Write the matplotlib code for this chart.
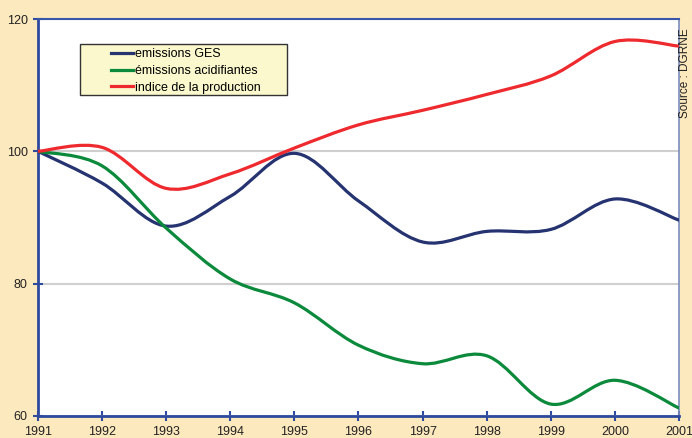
import numpy as np
import matplotlib
matplotlib.use("Agg")
import matplotlib.pyplot as plt
from matplotlib.path import Path
from matplotlib.patches import PathPatch, Rectangle
from matplotlib.lines import Line2D

plt.rcParams['font.family'] = ['Liberation Sans', 'DejaVu Sans']

years = [1991, 1992, 1993, 1994, 1995, 1996, 1997, 1998, 1999, 2000, 2001]
ges = [100, 95.2, 88.7, 93.2, 99.7, 92.5, 86.3, 87.9, 88.2, 92.8, 89.6]
acid = [100, 97.8, 88.4, 80.7, 77.1, 70.7, 67.9, 69.1, 61.8, 65.4, 61.2]
prod = [100, 100.6, 94.4, 96.6, 100.5, 104.0, 106.2, 108.6, 111.4, 116.6, 115.9]
labels = ["emissions GES", "émissions acidifiantes", "indice de la production"]
colors = ["#253370", "#0C8A3C", "#EE2A2E"]


def smooth_path(x, y):
    # Excel-like smoothed line: cubic Bezier segments, Catmull-Rom control points
    x = np.asarray(x, float)
    y = np.asarray(y, float)
    n = len(x)
    verts = [(x[0], y[0])]
    codes = [Path.MOVETO]
    for i in range(n - 1):
        p0 = i - 1 if i > 0 else i
        p3 = i + 2 if i + 2 < n else i + 1
        c1 = (x[i] + (x[i + 1] - x[p0]) / 6, y[i] + (y[i + 1] - y[p0]) / 6)
        c2 = (x[i + 1] - (x[p3] - x[i]) / 6, y[i + 1] - (y[p3] - y[i]) / 6)
        verts += [c1, c2, (x[i + 1], y[i + 1])]
        codes += [Path.CURVE4] * 3
    return Path(verts, codes)


W, H = 692, 438
fig = plt.figure(figsize=(W / 100, H / 100), dpi=100, facecolor="#FDE9BE")
ax = fig.add_axes([38 / W, 22 / H, 641 / W, 397 / H])
ax.set_facecolor("white")

for series, col in zip([ges, acid, prod], colors):
    ax.add_patch(PathPatch(smooth_path(years, series), facecolor="none",
                           edgecolor=col, lw=2.3, capstyle="round", zorder=3))

ax.set_xlim(1991, 2001)
ax.set_ylim(60, 120)
ax.set_xticks(years)
ax.set_yticks([60, 80, 100, 120])
ax.grid(axis="y", color="#CFCFCF", lw=1.5)
ax.set_axisbelow(True)

for s in ["left", "bottom"]:
    ax.spines[s].set_color("#2E4A9E")
    ax.spines[s].set_linewidth(2)
ax.spines["top"].set_color("#3A56A8")
ax.spines["top"].set_linewidth(1.5)
ax.spines["right"].set_color("#7A8CC0")
ax.spines["right"].set_linewidth(1.2)

ax.tick_params(axis="both", direction="inout", length=7, width=1.5,
               color="#2E4A9E", labelsize=9, labelcolor="#222222")
ax.tick_params(axis="x", pad=4)
ax.tick_params(axis="y", pad=4)

# legend box (wider than its content, as in the original)
fig.patches.append(Rectangle((80 / W, 1 - 95 / H), 207 / W, 51 / H,
                             transform=fig.transFigure, facecolor="#FAF8CC",
                             edgecolor="#333333", lw=1, zorder=4))

handles = [Line2D([], [], color=c, lw=2.3) for c in colors]
leg = fig.legend(handles, labels, loc="upper left",
                 bbox_to_anchor=(111 / W, 1 - 48 / H),
                 frameon=False, fontsize=9, handlelength=1.76,
                 handletextpad=0.16, borderpad=0, labelspacing=0.39,
                 borderaxespad=0)
leg.set_zorder(5)

fig.text(685 / W, 1 - 28 / H, "Source : DGRNE", rotation=90, ha="center",
         va="top", fontsize=8.5, color="#222222")

fig.savefig("out.png", dpi=100, facecolor=fig.get_facecolor())
